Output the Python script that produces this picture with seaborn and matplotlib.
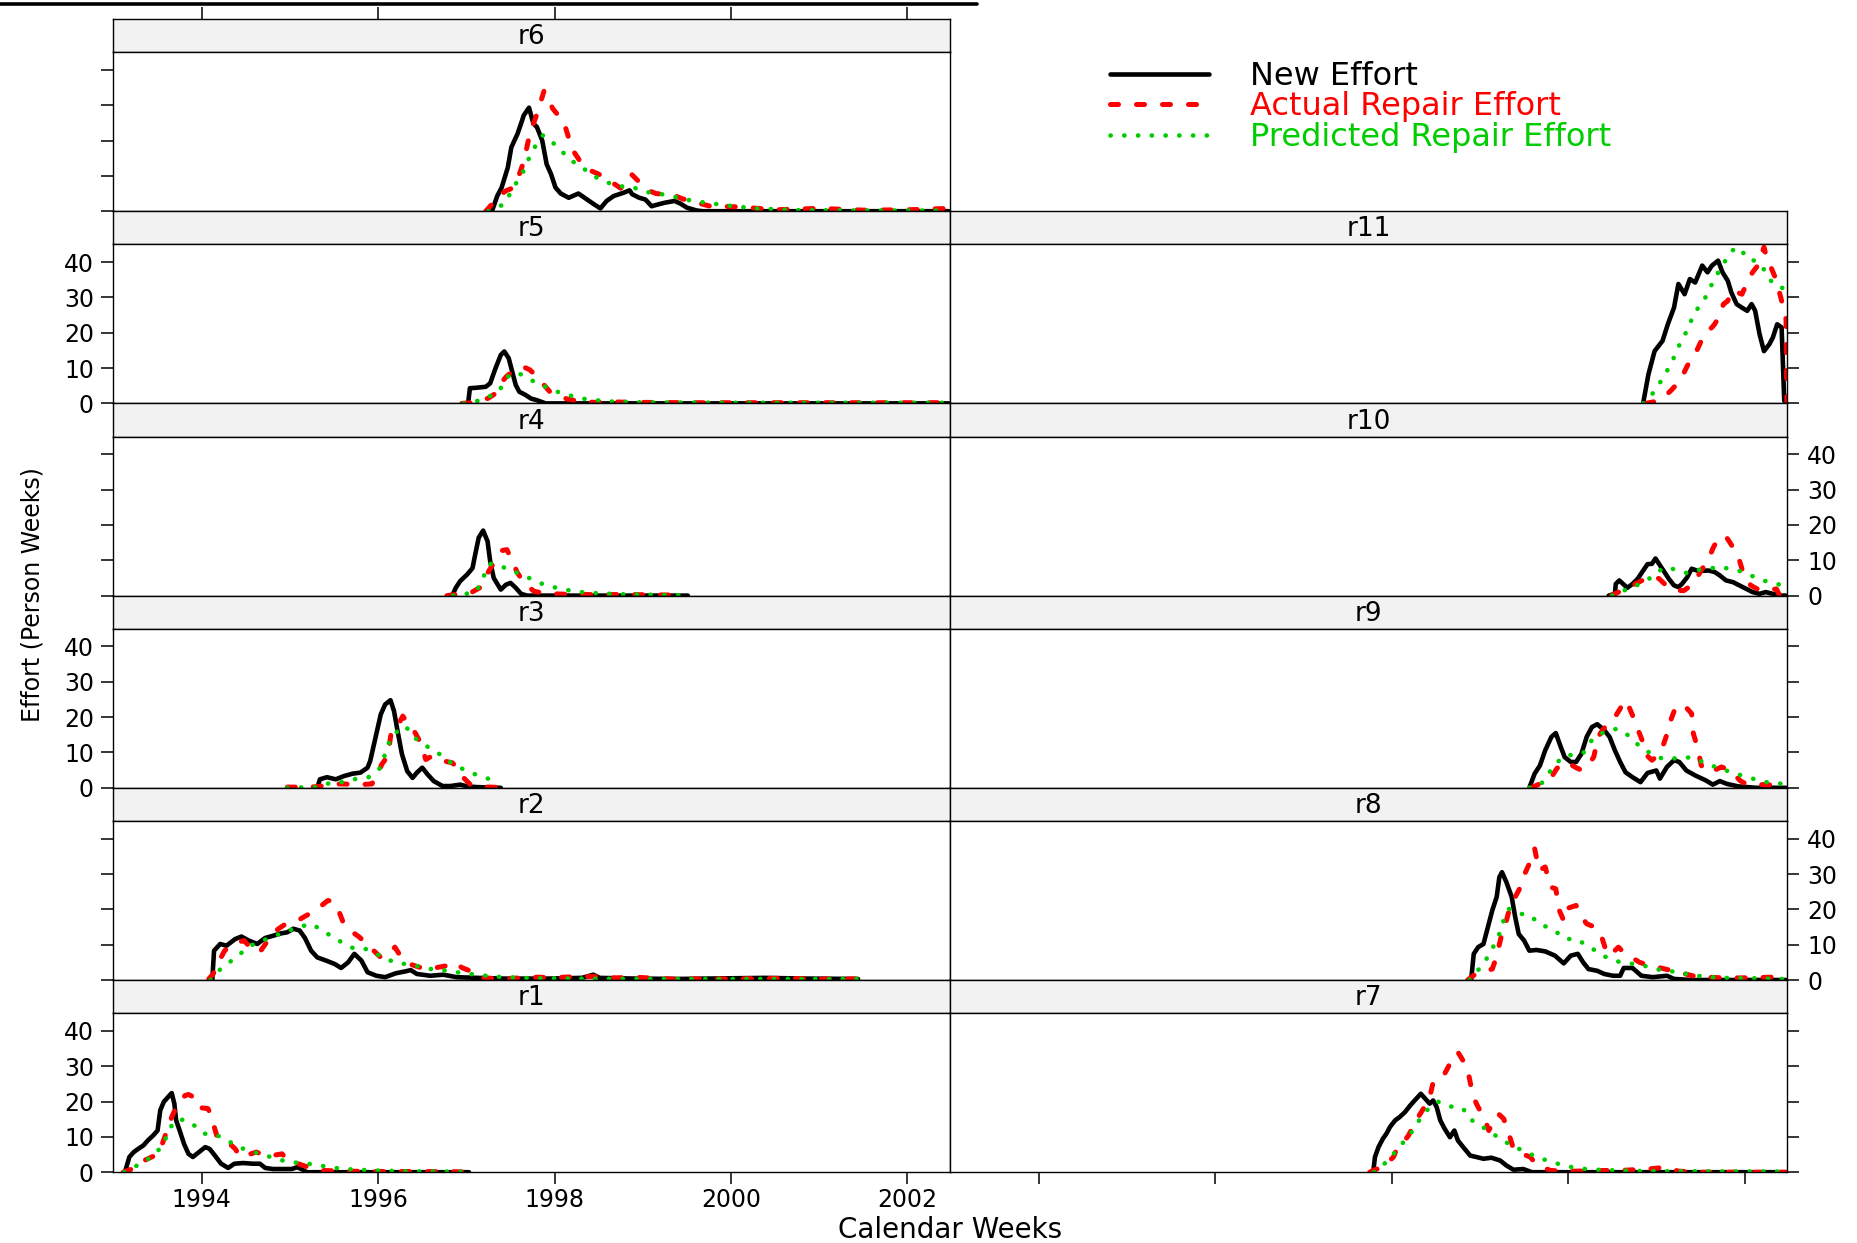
import numpy as np
import pandas as pd
import matplotlib
matplotlib.use("Agg")
import matplotlib.pyplot as plt
from matplotlib.lines import Line2D
import seaborn as sns

# ---- values: (calendar year, effort in person weeks) ----
r1_new = [(1993.13, 0), (1993.18, 4.3), (1993.23, 5.7), (1993.28, 6.6), (1993.34, 7.6), (1993.39, 9.0),
          (1993.45, 10.4), (1993.50, 11.8), (1993.53, 17.5), (1993.57, 19.9), (1993.62, 21.3), (1993.66, 22.4),
          (1993.69, 19.4), (1993.71, 14.7), (1993.75, 11.8), (1993.80, 8.0), (1993.85, 5.2), (1993.90, 4.3),
          (1993.97, 5.7), (1994.04, 7.1), (1994.09, 6.6), (1994.15, 4.7), (1994.22, 2.4), (1994.30, 1.2),
          (1994.37, 2.4), (1994.47, 2.6), (1994.58, 2.4), (1994.66, 2.4), (1994.72, 1.2), (1994.81, 0.9),
          (1994.92, 0.9), (1995.02, 0.9), (1995.08, 1.4), (1995.13, 0.9), (1995.19, 0), (1996.00, 0), (1997.03, 0)]
r1_actual = [(1993.11, 0), (1993.21, 0.9), (1993.24, 1.9), (1993.32, 3.0), (1993.39, 3.8), (1993.51, 5.2),
             (1993.56, 8.5), (1993.60, 11.3), (1993.66, 15.6), (1993.70, 17.8), (1993.74, 19.4), (1993.81, 21.7),
             (1993.85, 22.0), (1993.89, 21.5), (1993.94, 18.4), (1994.00, 18.2), (1994.07, 18.0), (1994.11, 16.1),
             (1994.14, 13.0), (1994.17, 10.4), (1994.26, 9.5), (1994.32, 8.0), (1994.38, 6.6), (1994.44, 4.3),
             (1994.53, 5.0), (1994.62, 5.7), (1994.72, 4.7), (1994.82, 4.8), (1994.91, 5.2), (1994.96, 3.8),
             (1995.08, 2.5), (1995.21, 1.4), (1995.36, 0.5), (1995.60, 0.3), (1996.00, 0.2), (1996.50, 0.2),
             (1997.03, 0.1)]
r1_pred = [(1993.12, 0), (1993.23, 1.4), (1993.36, 3.1), (1993.47, 5.2), (1993.56, 7.6), (1993.64, 12.6),
           (1993.73, 15.0), (1993.82, 14.7), (1993.93, 13.0), (1994.03, 10.9), (1994.15, 10.7), (1994.28, 9.2),
           (1994.40, 7.3), (1994.53, 6.1), (1994.66, 5.2), (1994.81, 4.1), (1994.96, 3.0), (1995.11, 2.6),
           (1995.28, 2.2), (1995.45, 1.4), (1995.61, 0.9), (1995.78, 0.7), (1995.95, 0.5), (1996.30, 0.3),
           (1996.70, 0.2), (1997.03, 0.1)]

r2_new = [(1994.12, 0), (1994.14, 8.3), (1994.21, 10.2), (1994.28, 9.7), (1994.38, 11.6), (1994.45, 12.3),
          (1994.53, 11.2), (1994.63, 10.2), (1994.72, 11.9), (1994.82, 12.6), (1994.90, 13.2), (1994.97, 13.5),
          (1995.04, 14.5), (1995.11, 14.0), (1995.17, 11.9), (1995.24, 8.3), (1995.31, 6.4), (1995.41, 5.5),
          (1995.51, 4.5), (1995.58, 3.4), (1995.66, 5.0), (1995.73, 7.4), (1995.81, 5.5), (1995.88, 2.2),
          (1995.98, 1.2), (1996.08, 0.8), (1996.20, 1.9), (1996.32, 2.5), (1996.37, 2.8), (1996.44, 1.7),
          (1996.59, 1.2), (1996.74, 1.5), (1996.89, 0.8), (1997.13, 0.6), (1997.43, 0.4), (1997.92, 0.4),
          (1998.31, 0.6), (1998.44, 1.5), (1998.51, 0.6), (1998.91, 0.4), (1999.40, 0.3), (2000.38, 0.6),
          (2000.87, 0.4), (2001.44, 0.3)]
r2_actual = [(1994.08, 0.3), (1994.13, 1.7), (1994.20, 5.5), (1994.26, 8.3), (1994.33, 9.7), (1994.40, 10.5),
             (1994.48, 11.2), (1994.58, 8.3), (1994.62, 7.8), (1994.67, 8.3), (1994.75, 11.2), (1994.82, 13.5),
             (1994.87, 14.5), (1994.93, 15.5), (1994.99, 16.4), (1995.04, 16.8), (1995.12, 17.3), (1995.19, 18.3),
             (1995.24, 19.0), (1995.29, 19.7), (1995.36, 21.1), (1995.43, 22.5), (1995.48, 22.3), (1995.53, 21.1),
             (1995.57, 18.5), (1995.61, 15.9), (1995.71, 13.5), (1995.78, 12.3), (1995.85, 10.7), (1995.95, 8.3),
             (1996.03, 6.4), (1996.12, 7.5), (1996.19, 9.3), (1996.25, 6.9), (1996.36, 4.5), (1996.47, 3.6),
             (1996.54, 3.1), (1996.66, 3.5), (1996.79, 4.1), (1996.86, 5.0), (1996.95, 3.5), (1997.04, 2.6),
             (1997.09, 1.2), (1997.20, 0.6), (1997.38, 0.3), (1997.53, 0.5), (1997.82, 0.8), (1997.97, 0.6),
             (1998.26, 1.0), (1998.44, 1.0), (1998.70, 0.6), (1998.90, 0.8), (1999.30, 0.3), (2000.00, 0.3),
             (2000.60, 0.5), (2001.00, 0.3), (2001.44, 0.3)]
r2_pred = [(1994.10, 0), (1994.16, 1.9), (1994.26, 4.1), (1994.37, 6.0), (1994.47, 8.1), (1994.57, 9.9),
           (1994.68, 11.0), (1994.80, 12.3), (1994.91, 13.2), (1995.01, 14.2), (1995.12, 15.1), (1995.24, 15.9),
           (1995.35, 14.3), (1995.47, 12.4), (1995.60, 10.5), (1995.71, 9.1), (1995.83, 9.1), (1996.08, 6.2),
           (1996.21, 4.7), (1996.34, 4.5), (1996.50, 3.6), (1996.64, 2.9), (1996.81, 2.6), (1996.96, 1.9),
           (1997.13, 1.5), (1997.28, 1.0), (1997.45, 0.8), (1997.63, 0.6), (1997.80, 0.5), (1998.30, 0.4),
           (1999.00, 0.3), (2000.00, 0.3), (2001.44, 0.3)]

r3_new = [(1995.31, 0), (1995.34, 2.4), (1995.42, 3.0), (1995.52, 2.4), (1995.61, 3.3), (1995.71, 4.0),
          (1995.80, 4.3), (1995.88, 5.7), (1995.91, 7.6), (1995.97, 14.2), (1996.03, 20.8), (1996.08, 23.6),
          (1996.14, 24.8), (1996.18, 21.7), (1996.22, 16.1), (1996.27, 9.5), (1996.33, 4.7), (1996.39, 2.8),
          (1996.44, 4.3), (1996.50, 5.7), (1996.56, 3.8), (1996.63, 1.9), (1996.73, 0.5), (1996.82, 0.5),
          (1996.93, 0.9), (1997.01, 0.4), (1997.12, 0.2), (1997.39, 0)]
r3_actual = [(1994.97, 0.2), (1995.16, 0.2), (1995.30, 0.3), (1995.44, 0.8), (1995.57, 1.1), (1995.70, 1.0),
             (1995.80, 0.9), (1995.93, 1.1), (1996.00, 4.0), (1996.04, 6.6), (1996.11, 9.0), (1996.15, 16.0),
             (1996.22, 17.5), (1996.28, 20.3), (1996.35, 17.5), (1996.41, 16.0), (1996.48, 12.8), (1996.54, 8.0),
             (1996.61, 9.0), (1996.68, 8.5), (1996.74, 7.6), (1996.84, 7.1), (1996.92, 5.0), (1996.97, 2.8),
             (1997.05, 0.8), (1997.15, 0.3), (1997.39, 0.1)]
r3_pred = [(1994.97, 0), (1995.30, 0.2), (1995.46, 1.4), (1995.63, 1.7), (1995.76, 2.6), (1995.89, 3.0),
           (1996.01, 5.2), (1996.06, 7.8), (1996.09, 10.9), (1996.14, 13.7), (1996.22, 16.1), (1996.31, 17.5),
           (1996.39, 14.7), (1996.48, 12.8), (1996.61, 10.9), (1996.73, 9.0), (1996.84, 6.8), (1996.97, 5.2),
           (1997.12, 3.6), (1997.27, 2.4)]

r4_new = [(1996.84, 0), (1996.88, 2.2), (1996.93, 4.1), (1997.01, 6.0), (1997.07, 7.8), (1997.10, 11.6),
          (1997.14, 16.4), (1997.19, 18.4), (1997.24, 15.4), (1997.27, 9.7), (1997.31, 5.0), (1997.39, 1.7),
          (1997.45, 3.1), (1997.50, 3.6), (1997.56, 2.2), (1997.62, 0.5), (1997.69, 0), (1998.50, 0), (1999.51, 0)]
r4_actual = [(1996.78, 0), (1996.91, 0.4), (1997.05, 0.8), (1997.15, 2.2), (1997.22, 5.5), (1997.28, 8.0),
             (1997.33, 10.2), (1997.41, 12.8), (1997.46, 13.0), (1997.52, 9.7), (1997.58, 6.4), (1997.67, 3.1),
             (1997.77, 1.2), (1997.90, 0.6), (1998.10, 0.4), (1998.40, 0.3), (1998.80, 0.3), (1999.20, 0.2),
             (1999.45, 0.1)]
r4_pred = [(1996.85, 0), (1996.95, 0.3), (1997.10, 1.0), (1997.17, 3.6), (1997.22, 7.0), (1997.27, 9.0),
           (1997.37, 8.6), (1997.50, 7.1), (1997.62, 6.1), (1997.75, 4.5), (1997.90, 2.9), (1998.06, 2.0),
           (1998.22, 1.2), (1998.39, 0.8), (1998.56, 0.6), (1998.73, 0.4), (1999.00, 0.3), (1999.41, 0.1)]

r5_new = [(1997.02, 0), (1997.04, 4.3), (1997.10, 4.4), (1997.22, 4.7), (1997.27, 5.7), (1997.33, 9.9),
          (1997.39, 13.7), (1997.43, 14.7), (1997.48, 12.8), (1997.52, 9.0), (1997.56, 5.2), (1997.60, 3.3),
          (1997.67, 2.4), (1997.73, 1.4), (1997.80, 0.9), (1997.90, 0), (2000.00, 0), (2002.47, 0)]
r5_actual = [(1996.95, 0), (1997.12, 0.3), (1997.25, 1.5), (1997.33, 2.8), (1997.39, 5.7), (1997.45, 7.5),
             (1997.52, 9.0), (1997.58, 9.8), (1997.65, 10.3), (1997.72, 9.5), (1997.80, 7.6), (1997.88, 5.2),
             (1997.95, 3.2), (1998.05, 2.0), (1998.15, 1.2), (1998.30, 0.5), (1998.45, 0.3), (1998.70, 0.4),
             (1998.90, 0.3), (1999.50, 0.2), (2000.50, 0.2), (2001.50, 0.2), (2002.47, 0.2)]
r5_pred = [(1996.97, 0), (1997.10, 0.5), (1997.24, 1.7), (1997.37, 3.5), (1997.43, 6.0), (1997.49, 8.2),
           (1997.56, 8.6), (1997.62, 8.2), (1997.75, 6.4), (1997.88, 4.9), (1998.03, 3.3), (1998.18, 2.2),
           (1998.35, 1.2), (1998.51, 0.8), (1998.67, 0.5), (1999.00, 0.3), (2000.00, 0.2), (2001.00, 0.2),
           (2002.47, 0.2)]

r6_new = [(1997.29, 0), (1997.35, 4.3), (1997.40, 6.7), (1997.47, 12.4), (1997.51, 18.1), (1997.58, 21.9),
          (1997.62, 24.8), (1997.65, 27.1), (1997.71, 29.3), (1997.76, 24.8), (1997.80, 23.8), (1997.86, 20.0),
          (1997.91, 13.3), (1997.96, 10.5), (1998.01, 6.7), (1998.07, 5.0), (1998.16, 3.8), (1998.27, 5.0),
          (1998.34, 3.8), (1998.45, 1.9), (1998.52, 0.8), (1998.59, 2.9), (1998.67, 4.3), (1998.78, 5.2),
          (1998.85, 5.9), (1998.88, 4.8), (1998.96, 3.8), (1999.03, 3.3), (1999.10, 1.4), (1999.17, 1.9),
          (1999.25, 2.4), (1999.36, 2.9), (1999.43, 2.1), (1999.50, 1.0), (1999.61, 0.2), (1999.68, 0),
          (2001.00, 0), (2002.47, 0)]
r6_actual = [(1997.22, 0), (1997.38, 4.5), (1997.45, 5.8), (1997.52, 6.5), (1997.58, 9.0), (1997.65, 14.0),
             (1997.72, 22.0), (1997.80, 27.5), (1997.88, 34.0), (1997.98, 29.0), (1998.08, 26.0), (1998.12, 24.0),
             (1998.20, 17.5), (1998.28, 14.5), (1998.36, 12.0), (1998.50, 10.5), (1998.60, 9.0), (1998.75, 6.5),
             (1998.87, 10.5), (1998.93, 9.0), (1999.05, 6.0), (1999.15, 5.0), (1999.35, 4.5), (1999.45, 3.5),
             (1999.60, 2.5), (1999.75, 1.5), (2000.10, 1.2), (2000.50, 0.4), (2001.00, 0.8), (2001.50, 0.3),
             (2002.00, 0.4), (2002.47, 0.8)]
r6_pred = [(1997.25, 0), (1997.43, 2.0), (1997.54, 7.0), (1997.62, 10.0), (1997.67, 12.5), (1997.71, 15.0),
           (1997.76, 17.5), (1997.82, 20.0), (1997.87, 21.5), (1997.95, 20.0), (1998.07, 17.5), (1998.14, 15.2),
           (1998.27, 13.0), (1998.38, 11.2), (1998.49, 9.3), (1998.70, 7.1), (1998.88, 6.9), (1998.99, 5.7),
           (1999.14, 5.0), (1999.28, 4.6), (1999.43, 3.6), (1999.57, 2.9), (1999.93, 1.7), (2000.26, 0.8),
           (2000.77, 0.3), (2001.50, 0.2), (2002.47, 0.2)]

r7_new = [(1997.79, 0), (1997.81, 4.3), (1997.85, 7.1), (1997.90, 9.5), (1997.94, 10.9), (1997.98, 12.8),
          (1998.04, 14.7), (1998.09, 15.6), (1998.15, 17.0), (1998.21, 18.9), (1998.26, 20.3), (1998.33, 22.2),
          (1998.38, 20.8), (1998.43, 19.4), (1998.47, 20.3), (1998.51, 18.4), (1998.55, 14.7), (1998.60, 12.3),
          (1998.66, 9.9), (1998.71, 11.8), (1998.75, 9.0), (1998.81, 7.1), (1998.89, 4.7), (1998.96, 4.3),
          (1999.04, 3.8), (1999.13, 4.1), (1999.23, 3.3), (1999.30, 1.9), (1999.38, 0.7), (1999.49, 0.9),
          (1999.59, 0), (2001.00, 0), (2002.47, 0)]
r7_actual = [(1997.75, 0), (1997.79, 0.5), (1997.90, 1.5), (1998.02, 4.3), (1998.05, 6.1), (1998.12, 8.0),
             (1998.19, 10.4), (1998.23, 12.3), (1998.30, 15.6), (1998.36, 18.0), (1998.40, 20.0), (1998.44, 22.2),
             (1998.47, 25.5), (1998.53, 26.5), (1998.58, 27.0), (1998.62, 28.8), (1998.70, 32.6), (1998.75, 34.0),
             (1998.83, 30.7), (1998.87, 27.9), (1998.92, 21.7), (1998.96, 19.4), (1999.01, 17.0), (1999.06, 14.7),
             (1999.10, 11.8), (1999.16, 14.5), (1999.21, 16.5), (1999.27, 15.1), (1999.34, 9.9), (1999.38, 6.6),
             (1999.50, 5.0), (1999.57, 4.3), (1999.65, 1.9), (1999.80, 0.5), (1999.95, 0.3), (2000.10, 0.3),
             (2000.44, 0.5), (2000.59, 0.5), (2000.91, 0.9), (2001.10, 1.4), (2001.25, 0.3), (2001.46, 0),
             (2002.47, 0)]
r7_pred = [(1997.80, 0), (1997.87, 1.2), (1997.96, 3.5), (1998.04, 5.7), (1998.11, 7.8), (1998.19, 10.4),
           (1998.26, 12.3), (1998.32, 15.1), (1998.43, 18.4), (1998.53, 19.9), (1998.62, 18.9), (1998.72, 18.3),
           (1998.81, 18.0), (1998.88, 15.1), (1998.98, 13.7), (1999.10, 11.6), (1999.22, 9.7), (1999.34, 7.8),
           (1999.47, 6.3), (1999.61, 4.7), (1999.76, 3.3), (1999.91, 2.2), (2000.08, 1.2), (2000.24, 0.8),
           (2000.41, 0.6), (2000.57, 0.5), (2000.74, 0.4), (2000.93, 0.3), (2002.47, 0.2)]

r8_new = [(1998.90, 0), (1998.93, 7.4), (1998.98, 9.3), (1999.04, 10.2), (1999.08, 14.0), (1999.14, 19.7),
          (1999.19, 23.5), (1999.22, 29.1), (1999.25, 30.5), (1999.30, 27.7), (1999.36, 23.5), (1999.40, 17.8),
          (1999.44, 13.0), (1999.50, 11.2), (1999.56, 8.3), (1999.64, 8.5), (1999.74, 8.1), (1999.85, 6.9),
          (1999.95, 4.7), (2000.03, 6.9), (2000.11, 7.4), (2000.17, 5.0), (2000.23, 3.1), (2000.33, 2.6),
          (2000.41, 1.7), (2000.51, 1.2), (2000.59, 1.2), (2000.63, 3.4), (2000.73, 3.4), (2000.83, 1.2),
          (2000.96, 0.8), (2001.12, 1.2), (2001.20, 0.3), (2001.40, 0), (2002.47, 0)]
r8_actual = [(1998.86, 0), (1998.94, 1.5), (1999.05, 2.5), (1999.14, 3.1), (1999.18, 6.0), (1999.24, 12.1),
             (1999.28, 14.9), (1999.34, 20.6), (1999.40, 23.5), (1999.46, 26.3), (1999.50, 29.6), (1999.56, 32.9),
             (1999.58, 34.8), (1999.62, 37.2), (1999.67, 31.0), (1999.74, 32.0), (1999.80, 26.3), (1999.86, 25.8),
             (1999.90, 19.7), (1999.95, 16.8), (1999.97, 20.1), (2000.09, 21.1), (2000.17, 17.3), (2000.21, 15.9),
             (2000.31, 14.9), (2000.37, 13.0), (2000.43, 8.3), (2000.47, 6.9), (2000.57, 9.3), (2000.63, 7.8),
             (2000.81, 5.0), (2000.87, 4.5), (2001.10, 3.1), (2001.20, 2.5), (2001.46, 0.9), (2001.54, 0.8),
             (2001.80, 0.6), (2001.96, 0.6), (2002.33, 0.8), (2002.47, 1.5)]
r8_pred = [(1998.88, 0), (1998.94, 1.7), (1999.04, 4.5), (1999.14, 8.8), (1999.20, 12.1), (1999.25, 14.5),
           (1999.27, 17.3), (1999.33, 20.1), (1999.47, 18.7), (1999.57, 18.3), (1999.67, 15.9), (1999.77, 14.9),
           (1999.87, 13.5), (1999.97, 11.6), (2000.09, 11.6), (2000.20, 10.0), (2000.31, 8.3), (2000.42, 6.6),
           (2000.55, 5.3), (2000.69, 4.7), (2000.83, 4.3), (2000.98, 3.1), (2001.14, 2.6), (2001.30, 1.9),
           (2001.46, 1.2), (2001.62, 0.8), (2001.80, 0.6), (2001.98, 0.5), (2002.16, 0.5), (2002.35, 0.3),
           (2002.47, 0.3)]

r9_new = [(1999.56, 0), (1999.62, 4.0), (1999.68, 6.3), (1999.74, 10.6), (1999.81, 14.4), (1999.86, 15.5),
          (1999.91, 12.0), (1999.96, 8.7), (2000.03, 7.3), (2000.09, 7.3), (2000.15, 9.6), (2000.21, 14.4),
          (2000.27, 17.2), (2000.33, 18.0), (2000.41, 16.3), (2000.47, 14.4), (2000.53, 10.6), (2000.59, 7.3),
          (2000.65, 4.4), (2000.73, 3.0), (2000.82, 1.6), (2000.90, 4.2), (2001.00, 4.9), (2001.04, 2.6),
          (2001.12, 5.9), (2001.20, 7.8), (2001.26, 7.3), (2001.34, 4.9), (2001.44, 3.5), (2001.56, 2.1),
          (2001.64, 0.9), (2001.72, 1.9), (2001.80, 1.1), (2001.93, 0.4), (2002.13, 0), (2002.47, 0)]
r9_actual = [(1999.58, 0), (1999.65, 0.8), (1999.75, 2.0), (1999.81, 3.0), (1999.87, 5.4), (1999.93, 6.8),
             (1999.98, 7.3), (2000.09, 5.7), (2000.15, 5.0), (2000.21, 5.9), (2000.29, 8.7), (2000.34, 14.4),
             (2000.39, 16.3), (2000.46, 18.5), (2000.53, 20.0), (2000.59, 22.4), (2000.64, 24.8), (2000.69, 22.9),
             (2000.73, 20.5), (2000.81, 15.3), (2000.87, 11.5), (2000.89, 9.2), (2000.95, 7.8), (2001.01, 9.0),
             (2001.07, 11.5), (2001.11, 14.4), (2001.17, 19.6), (2001.22, 22.9), (2001.24, 22.9), (2001.30, 23.4),
             (2001.35, 22.4), (2001.40, 21.0), (2001.42, 15.3), (2001.46, 12.0), (2001.51, 6.3), (2001.58, 4.4),
             (2001.66, 5.0), (2001.74, 5.9), (2001.84, 4.9), (2001.95, 2.0), (2002.03, 0.9), (2002.21, 0.9),
             (2002.37, 0.7), (2002.47, 2.1)]
r9_pred = [(1999.56, 0), (1999.58, 0.4), (1999.70, 1.3), (1999.85, 6.6), (1999.95, 8.9), (2000.06, 9.4),
           (2000.17, 9.8), (2000.28, 13.9), (2000.41, 15.8), (2000.55, 16.7), (2000.65, 15.5), (2000.75, 13.2),
           (2000.85, 10.8), (2000.96, 9.6), (2001.07, 8.2), (2001.18, 8.2), (2001.28, 8.7), (2001.40, 8.5),
           (2001.53, 7.3), (2001.67, 5.9), (2001.79, 4.9), (2001.94, 3.7), (2002.09, 2.6), (2002.25, 1.6),
           (2002.43, 1.1), (2002.47, 1.0)]

r10_new = [(2000.46, 0), (2000.53, 0.5), (2000.54, 3.3), (2000.58, 4.3), (2000.64, 2.9), (2000.67, 2.2),
           (2000.73, 3.3), (2000.79, 4.8), (2000.84, 6.7), (2000.90, 8.9), (2000.95, 9.0), (2000.99, 10.5),
           (2001.03, 9.0), (2001.08, 7.1), (2001.14, 4.8), (2001.20, 2.9), (2001.25, 2.4), (2001.29, 3.3),
           (2001.35, 5.2), (2001.40, 7.6), (2001.46, 7.1), (2001.51, 7.0), (2001.59, 7.1), (2001.66, 6.7),
           (2001.72, 5.7), (2001.79, 4.3), (2001.87, 3.8), (2001.94, 2.9), (2002.02, 1.9), (2002.09, 1.0),
           (2002.17, 0.5), (2002.24, 1.0), (2002.32, 0.5), (2002.40, 0), (2002.47, 0)]
r10_actual = [(2000.49, 0), (2000.53, 0.5), (2000.59, 1.2), (2000.70, 2.5), (2000.80, 3.8), (2000.91, 5.2),
              (2000.97, 5.5), (2001.03, 4.8), (2001.14, 2.2), (2001.22, 1.5), (2001.31, 1.4), (2001.42, 3.3),
              (2001.47, 5.5), (2001.52, 7.6), (2001.58, 9.5), (2001.64, 13.3), (2001.69, 15.7), (2001.74, 16.8),
              (2001.79, 16.7), (2001.84, 14.8), (2001.93, 11.0), (2001.97, 7.6), (2002.02, 4.5), (2002.07, 2.9),
              (2002.18, 1.4), (2002.28, 1.5), (2002.36, 1.9), (2002.40, 0), (2002.47, 0)]
r10_pred = [(2000.50, 0), (2000.58, 1.2), (2000.71, 1.9), (2000.84, 3.8), (2000.95, 5.2), (2001.03, 7.0),
            (2001.12, 8.1), (2001.24, 7.1), (2001.37, 6.2), (2001.48, 7.3), (2001.59, 7.6), (2001.71, 8.1),
            (2001.83, 7.6), (2001.94, 7.0), (2002.07, 5.7), (2002.21, 4.3), (2002.36, 3.3), (2002.47, 2.8)]

r11_new = [(2000.85, 0), (2000.91, 8.2), (2000.98, 14.8), (2001.07, 17.7), (2001.13, 22.4), (2001.20, 27.1),
           (2001.25, 33.8), (2001.32, 30.9), (2001.38, 35.2), (2001.44, 34.2), (2001.52, 39.0), (2001.58, 37.1),
           (2001.63, 39.0), (2001.70, 40.4), (2001.75, 37.1), (2001.81, 34.7), (2001.85, 31.4), (2001.91, 28.1),
           (2001.97, 27.1), (2002.03, 26.2), (2002.08, 28.1), (2002.12, 26.2), (2002.17, 19.6), (2002.22, 14.8),
           (2002.28, 16.7), (2002.32, 18.6), (2002.37, 22.4), (2002.42, 21.5), (2002.45, 0.7)]
r11_actual = [(2000.88, 0), (2000.98, 0.5), (2001.07, 1.5), (2001.16, 3.5), (2001.25, 5.9), (2001.30, 8.0),
              (2001.35, 10.6), (2001.41, 13.0), (2001.45, 14.5), (2001.50, 17.2), (2001.56, 20.0), (2001.63, 21.5),
              (2001.66, 22.4), (2001.72, 24.8), (2001.76, 28.1), (2001.81, 29.0), (2001.85, 31.9), (2001.91, 31.5),
              (2001.97, 30.9), (2002.03, 34.2), (2002.09, 37.1), (2002.15, 39.0), (2002.19, 41.8), (2002.22, 44.2),
              (2002.25, 41.3), (2002.28, 39.0), (2002.30, 38.5), (2002.34, 36.1), (2002.40, 31.0), (2002.44, 27.1),
              (2002.47, 23.8), (2002.48, 0)]
r11_pred = [(2000.85, 0), (2000.93, 1.8), (2001.00, 4.3), (2001.07, 7.0), (2001.13, 9.6), (2001.19, 12.5),
            (2001.24, 15.3), (2001.29, 18.2), (2001.36, 21.0), (2001.40, 23.8), (2001.45, 26.2), (2001.52, 28.6),
            (2001.58, 30.9), (2001.63, 33.8), (2001.69, 36.6), (2001.76, 39.4), (2001.82, 42.1), (2001.90, 44.2),
            (2001.97, 43.2), (2002.03, 40.9), (2002.10, 40.5), (2002.18, 39.4), (2002.24, 37.1), (2002.30, 34.7),
            (2002.38, 32.8), (2002.47, 32.6)]

series_names = ["New Effort", "Actual Repair Effort", "Predicted Repair Effort"]
series_colors = ["black", "#ff0000", "#00cd00"]
year_ticks = [1994, 1996, 1998, 2000, 2002]
effort_ticks = [0, 10, 20, 30, 40]

panels = {
    "r1": (r1_new, r1_actual, r1_pred), "r2": (r2_new, r2_actual, r2_pred),
    "r3": (r3_new, r3_actual, r3_pred), "r4": (r4_new, r4_actual, r4_pred),
    "r5": (r5_new, r5_actual, r5_pred), "r6": (r6_new, r6_actual, r6_pred),
    "r7": (r7_new, r7_actual, r7_pred), "r8": (r8_new, r8_actual, r8_pred),
    "r9": (r9_new, r9_actual, r9_pred), "r10": (r10_new, r10_actual, r10_pred),
    "r11": (r11_new, r11_actual, r11_pred),
}
left_col = ["r6", "r5", "r4", "r3", "r2", "r1"]
right_col = [None, "r11", "r10", "r9", "r8", "r7"]

line_kws = {
    "New Effort": dict(lw=3.3, linestyle="-"),
    "Actual Repair Effort": dict(lw=3.6, linestyle=(0, (1.6, 3.6))),
    "Predicted Repair Effort": dict(lw=3.3, linestyle=(0, (0.05, 2.95))),
}

sns.set_style("ticks", {"axes.edgecolor": "black", "xtick.color": "black", "ytick.color": "black",
                        "text.color": "black", "axes.labelcolor": "black"})
plt.rcParams["font.family"] = ["DejaVu Sans"]

W, H = 1858, 1243
fig = plt.figure(figsize=(W / 100, H / 100), dpi=100)


def box(x0, y0, x1, y1):
    # pixel box (top-left origin) -> figure fraction rect
    return [x0 / W, 1 - y1 / H, (x1 - x0) / W, (y1 - y0) / H]


XLIM = (1992.99, 2002.48)
col_x = [(112.6, 949.8), (949.8, 1786.9)]
top, row_h, strip_h = 19.0, 192.2, 33.2
tick_kw = dict(direction="out", length=8.5, width=1.1, labelsize=17)

for c, names in enumerate([left_col, right_col]):
    for r, name in enumerate(names):
        if name is None:
            continue
        x0, x1 = col_x[c]
        y0 = top + r * row_h

        strip = fig.add_axes(box(x0, y0, x1, y0 + strip_h))
        strip.set_facecolor("#f2f2f2")
        strip.set_xlim(*XLIM)
        strip.set_yticks([])
        strip.text(0.5, 0.45, name, ha="center", va="center", fontsize=19, transform=strip.transAxes)
        if name == "r6":
            strip.set_xticks(year_ticks)
            strip.tick_params(axis="x", top=True, bottom=False, labeltop=False, labelbottom=False, **tick_kw)
        else:
            strip.set_xticks([])

        ax = fig.add_axes(box(x0, y0 + strip_h, x1, y0 + row_h))
        for s, pts in zip(series_names, panels[name]):
            d = pd.DataFrame(pts, columns=["year", "effort"])
            sns.lineplot(data=d, x="year", y="effort", ax=ax, sort=False, estimator=None,
                         color=series_colors[series_names.index(s)], dash_capstyle="round",
                         solid_capstyle="round", solid_joinstyle="round", **line_kws[s])
        ax.set_xlim(*XLIM)
        ax.set_ylim(0, 45)
        ax.set_xlabel("")
        ax.set_ylabel("")
        ax.set_yticks(effort_ticks)
        ax.set_xticks(year_ticks)
        ax.set_xticklabels([str(y) for y in year_ticks])
        ax.tick_params(**tick_kw)
        if c == 0:
            ax.tick_params(axis="y", left=True, right=False, labelleft=name in ("r1", "r3", "r5"),
                           labelright=False, pad=5)
        else:
            ax.tick_params(axis="y", left=False, right=True, labelleft=False,
                           labelright=name in ("r8", "r10"), pad=6)
        ax.tick_params(axis="x", bottom=(r == 5), top=False, labelbottom=(r == 5 and c == 0), pad=3)
        for a in (ax, strip):
            for sp in a.spines.values():
                sp.set_visible(True)
                sp.set_linewidth(1.0)
                sp.set_color("black")

fig.text(950 / W, 1 - 1230 / H, "Calendar Weeks", ha="center", va="center", fontsize=20)
fig.text(33 / W, 1 - 595 / H, "Effort (Person Weeks)", ha="center", va="center", rotation=90, fontsize=17)

handles = [Line2D([], [], color=col, dash_capstyle="round", **line_kws[s])
           for s, col in zip(series_names, series_colors)]
fig.legend(handles, series_names, loc="upper left", bbox_to_anchor=(1110 / W, 1 - 61 / H),
           frameon=False, fontsize=23, handlelength=3.1, handletextpad=1.28, labelspacing=-0.02,
           borderpad=0, borderaxespad=0, labelcolor=series_colors)

# stray rule across the top edge of the original image
fig.add_artist(Line2D([0, 977 / W], [1 - 4.3 / H] * 2, color="black", lw=2.6, transform=fig.transFigure))

fig.savefig("out.png", dpi=100)
